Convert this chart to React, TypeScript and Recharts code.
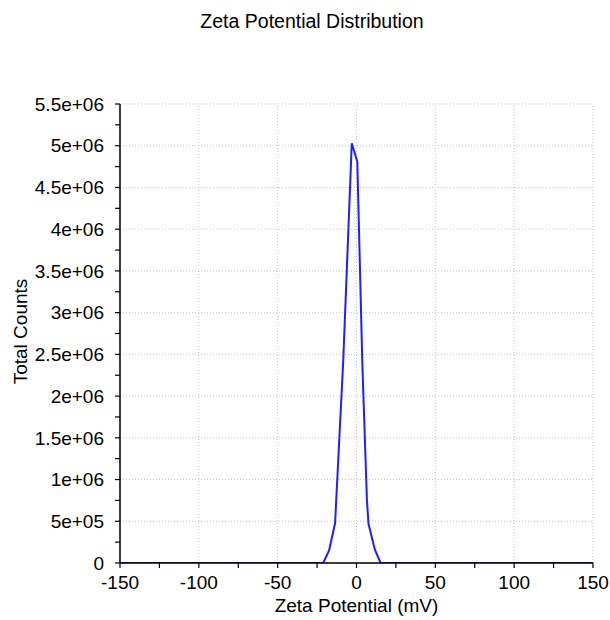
import React from "react";
import { LineChart, Line, XAxis, YAxis, ReferenceLine, Label } from "recharts";

// Zeta potential (mV) and total counts
const zeta = [-150, -21.1, -17.4, -13.6, -8.4, -3.0, 0.5, 3.7, 6.6, 7.6, 11.7, 15.3, 150];
const counts = [0, 0, 151000, 476000, 2430000, 5030000, 4810000, 2390000, 760000, 470000, 156000, 0, 0];

const xTicks = [-150, -125, -100, -75, -50, -25, 0, 25, 50, 75, 100, 125, 150];
const xMajor = [-150, -100, -50, 0, 50, 100, 150];
const xLabels = ["-150", "-100", "-50", "0", "50", "100", "150"];

const yTicks = [
  0, 250000, 500000, 750000, 1000000, 1250000, 1500000, 1750000, 2000000, 2250000, 2500000,
  2750000, 3000000, 3250000, 3500000, 3750000, 4000000, 4250000, 4500000, 4750000, 5000000,
  5250000, 5500000,
];
const yMajor = [0, 500000, 1000000, 1500000, 2000000, 2500000, 3000000, 3500000, 4000000, 4500000, 5000000, 5500000];
const yLabels = ["0", "5e+05", "1e+06", "1.5e+06", "2e+06", "2.5e+06", "3e+06", "3.5e+06", "4e+06", "4.5e+06", "5e+06", "5.5e+06"];

const data = zeta.map((z, i) => ({ zeta: z, counts: counts[i] }));

const FONT = "'Liberation Sans', Arial, sans-serif";
const GRID = "#c4c4c4";

const xFmt = (v: number) => {
  const i = xMajor.indexOf(v);
  return i >= 0 ? xLabels[i] : "";
};
const yFmt = (v: number) => {
  const i = yMajor.indexOf(v);
  return i >= 0 ? yLabels[i] : "";
};

function YTitle(props: any) {
  const vb = props.viewBox || { x: 0, y: 0, width: 0, height: 0 };
  const cx = vb.x + 27;
  const cy = vb.y + vb.height / 2 - 2;
  return (
    <text
      x={cx}
      y={cy}
      transform={`rotate(-90 ${cx} ${cy})`}
      textAnchor="middle"
      fontSize={19}
      fontFamily={FONT}
      fill="#000"
    >
      Total Counts
    </text>
  );
}

export default function App() {
  return (
    <div style={{ position: "relative", width: 610, height: 620, fontFamily: FONT }}>
      <style>{`html,body{margin:0;padding:0;overflow:hidden;background:#fff}`}</style>
      <div
        style={{
          position: "absolute",
          left: 112,
          top: 9,
          width: 400,
          textAlign: "center",
          fontSize: 19.5,
          color: "#000",
          fontFamily: FONT,
          lineHeight: "24px",
          zIndex: 2,
        }}
      >
        Zeta Potential Distribution
      </div>
      <LineChart
        width={610}
        height={620}
        data={data}
        margin={{ top: 104, right: 17, bottom: 0, left: 0 }}
        style={{ fontFamily: FONT }}
      >
        {xMajor.map((v) => (
          <ReferenceLine
            key={"gx" + v}
            x={v}
            stroke={GRID}
            strokeDasharray="1 2"
            strokeWidth={1}
          />
        ))}
        {yMajor.map((v) => (
          <ReferenceLine
            key={"gy" + v}
            y={v}
            stroke={GRID}
            strokeDasharray="1 2"
            strokeWidth={1}
          />
        ))}
        <XAxis
          type="number"
          dataKey="zeta"
          domain={[-150, 150]}
          ticks={xTicks}
          tickFormatter={xFmt}
          interval={0}
          height={57}
          tickSize={5}
          tickMargin={8}
          axisLine={{ stroke: "#000", strokeWidth: 1.5 }}
          tickLine={{ stroke: "#000", strokeWidth: 1.2 }}
          tick={{ fill: "#000", fontSize: 19, fontFamily: FONT }}
          allowDataOverflow
        >
          <Label
            value="Zeta Potential (mV)"
            position="insideBottom"
            offset={8}
            style={{ fill: "#000", fontSize: 19, fontFamily: FONT }}
          />
        </XAxis>
        <YAxis
          type="number"
          domain={[0, 5500000]}
          ticks={yTicks}
          tickFormatter={yFmt}
          interval={0}
          width={120}
          tickSize={5}
          tickMargin={11}
          axisLine={{ stroke: "#000", strokeWidth: 1.5 }}
          tickLine={{ stroke: "#000", strokeWidth: 1.2 }}
          tick={{ fill: "#000", fontSize: 19, fontFamily: FONT }}
          allowDataOverflow
        >
          <Label content={YTitle} />
        </YAxis>
        <Line
          type="linear"
          dataKey="counts"
          stroke="#1f1fff"
          strokeWidth={2}
          dot={false}
          activeDot={false}
          isAnimationActive={false}
        />
      </LineChart>
    </div>
  );
}
